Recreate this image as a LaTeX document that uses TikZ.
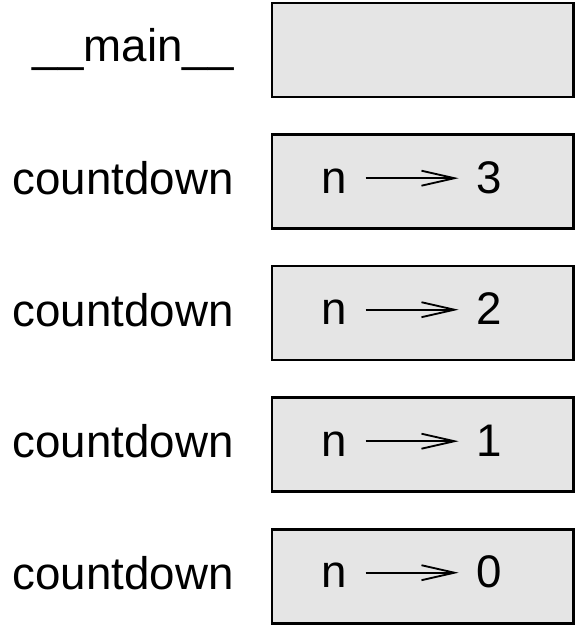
\documentclass[tikz,border=0pt]{standalone}
\usepackage{fontspec}
\setmainfont{Liberation Sans}
\usetikzlibrary{arrows.meta,positioning}

\begin{document}
\begin{tikzpicture}[
  node distance=0.75cm,
  >={Straight Barb[length=6.6mm,width=3mm]},
  font=\fontsize{26}{31}\selectfont,
  frame/.style= {draw,line width=1.7pt,fill=black!10,outer sep=0pt,minimum width=6.02cm,minimum height=1.88cm},
  word/.style= {inner sep=0pt},
  bind/.style= {->,line width=1.05pt,shorten <=3.7mm,shorten >=3.6mm}]
  \useasboundingbox (0,0) rectangle (11.58,-12.5);
  % f-frame l-label v-variable x-value
  \node [frame] (f0) at (8.45,-1.0) {};
  \node [frame] (f1) [below=of f0] {};
  \node [frame] (f2) [below=of f1] {};
  \node [frame] (f3) [below=of f2] {};
  \node [frame] (f4) [below=of f3] {};
  \node [word] (l0) [left=0.76cm of f0, yshift=-2.4mm, anchor=base east] {\_\_main\_\_};
  \node [word] (l1) [left=0.76cm of f1, yshift=-2.6mm, anchor=base east] {countdown};
  \node [word] (l2) [left=0.76cm of f2, yshift=-2.6mm, anchor=base east] {countdown};
  \node [word] (l3) [left=0.76cm of f3, yshift=-2.6mm, anchor=base east] {countdown};
  \node [word] (l4) [left=0.76cm of f4, yshift=-2.6mm, anchor=base east] {countdown};
  \node [word] (v1) [right=0.98cm of f1.west, yshift=-2.3mm, anchor=base west] {n};
  \node [word] (x1) [right=2.59cm of v1.base east, anchor=base west] {3};
  \draw [bind] ([yshift=0.5mm]v1.east) -- ([yshift=0.5mm]v1.east -| x1.west);
  \node [word] (v2) [right=0.98cm of f2.west, yshift=-2.3mm, anchor=base west] {n};
  \node [word] (x2) [right=2.59cm of v2.base east, anchor=base west] {2};
  \draw [bind] ([yshift=0.5mm]v2.east) -- ([yshift=0.5mm]v2.east -| x2.west);
  \node [word] (v3) [right=0.98cm of f3.west, yshift=-2.3mm, anchor=base west] {n};
  \node [word] (x3) [right=2.59cm of v3.base east, anchor=base west] {1};
  \draw [bind] ([yshift=0.5mm]v3.east) -- ([yshift=0.5mm]v3.east -| x3.west);
  \node [word] (v4) [right=0.98cm of f4.west, yshift=-2.3mm, anchor=base west] {n};
  \node [word] (x4) [right=2.59cm of v4.base east, anchor=base west] {0};
  \draw [bind] ([yshift=0.5mm]v4.east) -- ([yshift=0.5mm]v4.east -| x4.west);
\end{tikzpicture}
\end{document}
